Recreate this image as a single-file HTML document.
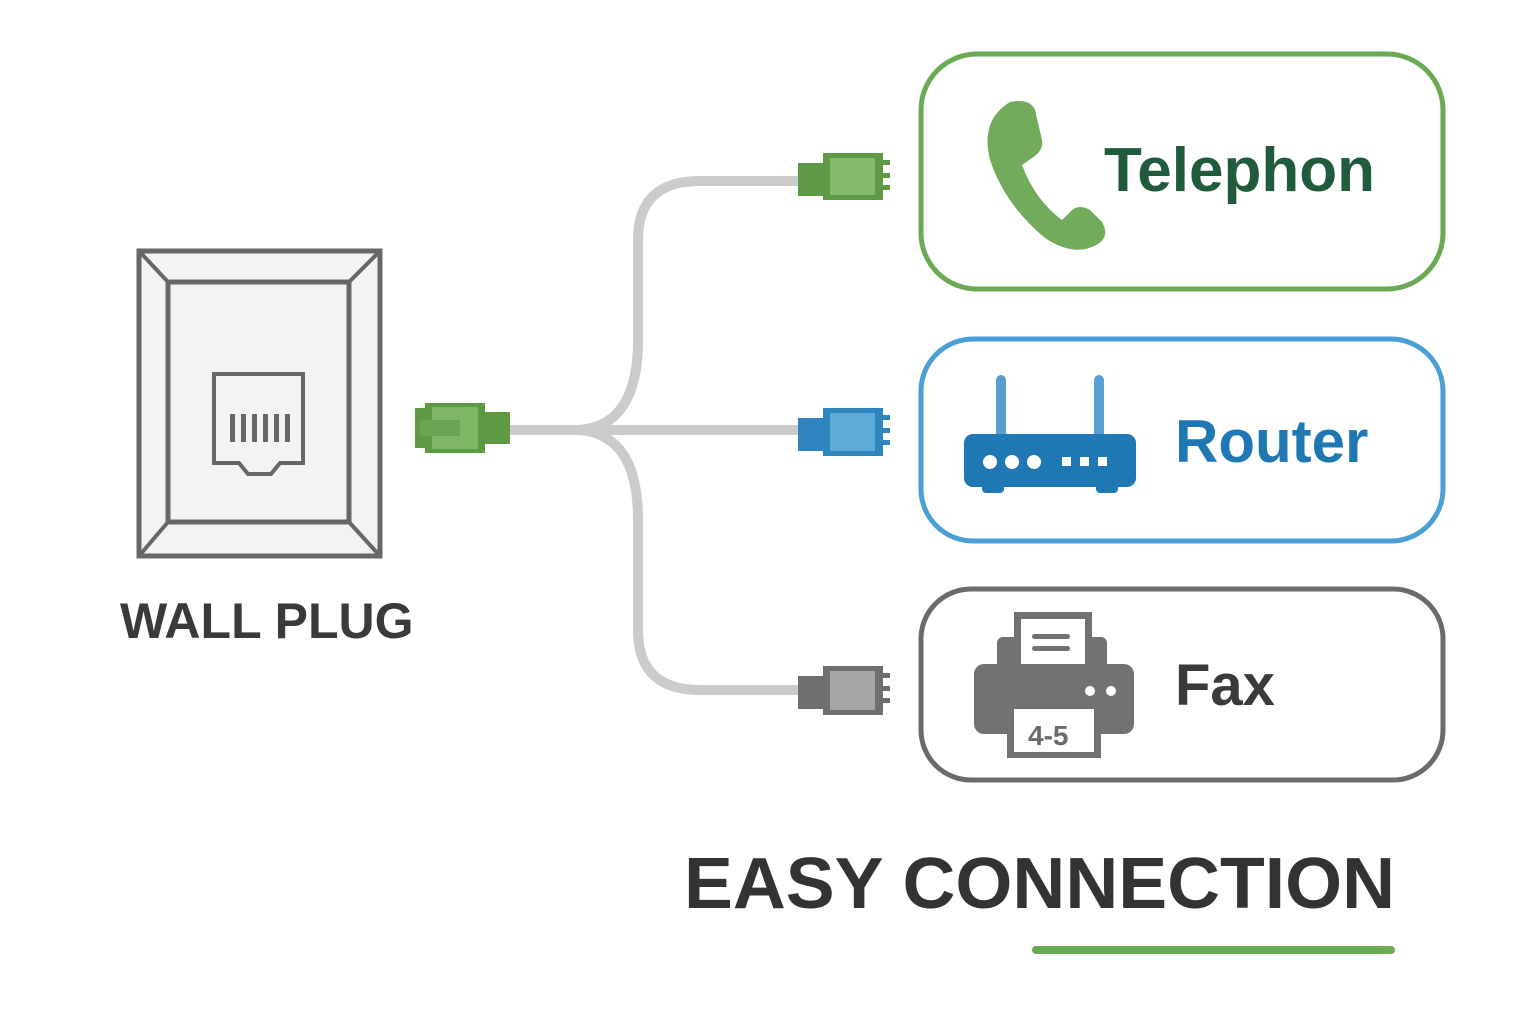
<!DOCTYPE html>
<html><head><meta charset="utf-8"><style>
html,body{margin:0;padding:0;background:#fff;}
svg{display:block}
text{font-family:"Liberation Sans",sans-serif;font-weight:bold}
</style></head><body>
<svg width="1536" height="1024" viewBox="0 0 1536 1024" xmlns="http://www.w3.org/2000/svg">
<rect width="1536" height="1024" fill="#fff"/>
<!-- wall plate -->
<rect x="139" y="251" width="241" height="305" fill="#f4f3f1" stroke="#676767" stroke-width="5"/>
<rect x="168" y="282" width="181" height="240" fill="#f4f3f1" stroke="#676767" stroke-width="5"/>
<g stroke="#676767" stroke-width="4">
<line x1="139" y1="251" x2="168" y2="282"/><line x1="380" y1="251" x2="349" y2="282"/>
<line x1="139" y1="556" x2="168" y2="522"/><line x1="380" y1="556" x2="349" y2="522"/>
</g>
<path d="M214 374 H303 V463 H280 L271 474 H248 L239 463 H214 Z" fill="#f4f3f1" stroke="#676767" stroke-width="4"/>
<g fill="#676767"><rect x="230" y="414" width="5" height="28"/><rect x="241" y="414" width="5" height="28"/><rect x="252" y="414" width="5" height="28"/><rect x="263" y="414" width="5" height="28"/><rect x="274" y="414" width="5" height="28"/><rect x="285" y="414" width="5" height="28"/></g>
<text x="120" y="638" font-size="50" fill="#3a3a3a">WALL PLUG</text>
<!-- cables -->
<g fill="none" stroke="#cbcbc9" stroke-width="10">
<path d="M508 430 H580 Q638 425 638 340 V240 Q638 181 700 181 H800"/>
<path d="M580 430 H800"/>
<path d="M580 430 Q638 435 638 520 V630 Q638 690 700 690 H800"/>
</g>
<!-- left plug -->
<rect x="415" y="408" width="12" height="40" fill="#5e9a44"/>
<rect x="425" y="403" width="60" height="50" fill="#5e9a44"/>
<rect x="432" y="407" width="46" height="42" fill="#7fb766"/>
<rect x="420" y="420" width="40" height="16" fill="#6aa553"/>
<rect x="483" y="412" width="27" height="32" fill="#5e9a44"/>
<!-- right plugs -->
<g>
<rect x="798" y="163" width="26" height="33" fill="#5e9a44"/>
<rect x="823" y="153" width="60" height="47" fill="#5e9a44"/>
<rect x="830" y="158" width="45" height="37" fill="#85ba6c"/>
<rect x="882" y="160" width="8" height="5" fill="#5e9a44"/><rect x="882" y="173" width="8" height="5" fill="#5e9a44"/><rect x="882" y="185" width="8" height="5" fill="#5e9a44"/>
</g>
<g>
<rect x="798" y="418" width="26" height="33" fill="#2f85c0"/>
<rect x="823" y="408" width="60" height="48" fill="#2f85c0"/>
<rect x="830" y="413" width="45" height="38" fill="#5eaad8"/>
<rect x="882" y="415" width="8" height="5" fill="#2f85c0"/><rect x="882" y="428" width="8" height="5" fill="#2f85c0"/><rect x="882" y="440" width="8" height="5" fill="#2f85c0"/>
</g>
<g>
<rect x="798" y="676" width="26" height="33" fill="#6f6f6f"/>
<rect x="823" y="666" width="60" height="49" fill="#6f6f6f"/>
<rect x="830" y="671" width="45" height="39" fill="#a6a6a6"/>
<rect x="882" y="673" width="8" height="5" fill="#6f6f6f"/><rect x="882" y="686" width="8" height="5" fill="#6f6f6f"/><rect x="882" y="698" width="8" height="5" fill="#6f6f6f"/>
</g>
<!-- boxes -->
<rect x="921" y="54" width="522" height="235" rx="56" fill="#fff" stroke="#6aaa52" stroke-width="5"/>
<rect x="921" y="339" width="522" height="202" rx="52" fill="#fff" stroke="#4a9fd6" stroke-width="5"/>
<rect x="921" y="589" width="522" height="191" rx="50" fill="#fff" stroke="#6b6b6b" stroke-width="5"/>
<!-- phone icon -->
<path d="M1010 102 Q1030 98 1035 110 L1042 140 Q1044 150 1032 158 L1022 165 Q1035 200 1062 220 L1072 210 Q1080 204 1090 210 L1102 222 Q1110 236 1098 244 Q1075 258 1045 238 Q1005 205 990 160 Q980 120 1010 102 Z" fill="#72ab5b"/>
<text x="1104" y="191" font-size="62" fill="#1f5b3c">Telephon</text>
<!-- router icon -->
<rect x="996" y="375" width="10" height="65" rx="5" fill="#5a9fd2"/>
<rect x="1094" y="375" width="10" height="65" rx="5" fill="#5a9fd2"/>
<rect x="964" y="434" width="172" height="53" rx="9" fill="#1f78b4"/>
<rect x="982" y="480" width="22" height="13" rx="4" fill="#1f78b4"/>
<rect x="1096" y="480" width="22" height="13" rx="4" fill="#1f78b4"/>
<g fill="#fff"><circle cx="990" cy="462" r="7"/><circle cx="1012" cy="462" r="7"/><circle cx="1034" cy="462" r="7"/><rect x="1062" y="457" width="9" height="9"/><rect x="1080" y="457" width="9" height="9"/><rect x="1098" y="457" width="9" height="9"/></g>
<text x="1175" y="462" font-size="60" fill="#1f78b4">Router</text>
<!-- fax icon -->
<rect x="997" y="637" width="110" height="40" rx="6" fill="#727272"/>
<rect x="974" y="664" width="160" height="70" rx="10" fill="#727272"/>
<rect x="1014" y="612" width="78" height="55" fill="#727272"/>
<rect x="1021" y="619" width="64" height="45" fill="#fff"/>
<rect x="1032" y="634" width="38" height="5" rx="2.5" fill="#727272"/>
<rect x="1032" y="646" width="38" height="5" rx="2.5" fill="#727272"/>
<circle cx="1090" cy="691" r="5" fill="#fff"/><circle cx="1111" cy="691" r="5" fill="#fff"/>
<rect x="1007" y="705" width="94" height="53" fill="#727272"/>
<rect x="1014" y="709" width="80" height="43" fill="#fff"/>
<text x="1028" y="745" font-size="28" fill="#6a6a6a">4-5</text>
<text x="1175" y="705" font-size="58" fill="#3a3a3a" font-weight="normal" style="font-weight:600">Fax</text>
<!-- footer -->
<text x="684" y="908" font-size="72" fill="#333" textLength="711" lengthAdjust="spacingAndGlyphs">EASY CONNECTION</text>
<line x1="1036" y1="950" x2="1391" y2="950" stroke="#6aaa52" stroke-width="8" stroke-linecap="round"/>
</svg>
</body></html>
